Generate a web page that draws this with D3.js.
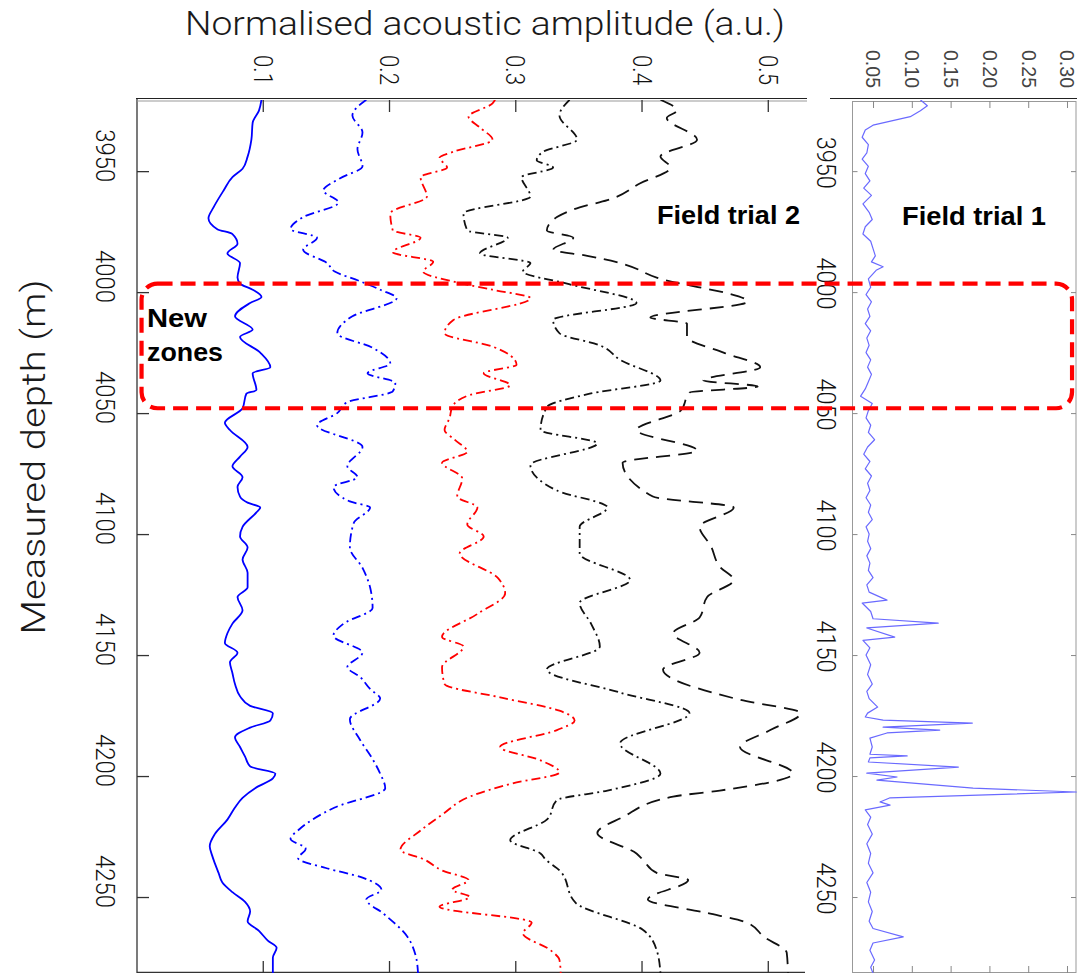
<!DOCTYPE html>
<meta charset="utf-8">
<style>
body { margin: 0; background: #fff; }
svg { font-family: "Liberation Sans", Arial, sans-serif; }
.narrow { font-family: "Liberation Sans Narrow", "Arial Narrow", Roboto, "Liberation Sans", sans-serif; font-weight: 300; }
.label { font-weight: bold; font-size: 26px; fill: #000; }
</style>
<body>
<script src="https://d3js.org/d3.v7.min.js"></script>
<script>
// depth ticks and amplitude ticks
var depthTicks = [3950, 4000, 4050, 4100, 4150, 4200, 4250];
var ampTicks2 = [0.1, 0.2, 0.3, 0.4, 0.5];
var ampTicks1 = [0.05, 0.10, 0.15, 0.20, 0.25, 0.30];
var zoneDepth = [3996.5, 4048];

// field trial 2 traces, [depth (m), amplitude]
var solidBlue = [[3920.5,0.099],[3925,0.097],[3930,0.092],[3937,0.091],[3944,0.088],[3949,0.084],[3952.5,0.076],[3958,0.069],[3965,0.061],[3969.5,0.057],[3974,0.064],[3976,0.076],[3980,0.080],[3984,0.072],[3988,0.082],[3994,0.080],[3996.5,0.082],[3999,0.092],[4002,0.099],[4004.5,0.090],[4010,0.078],[4015.5,0.092],[4018.5,0.082],[4025,0.098],[4031,0.106],[4033.5,0.092],[4040.5,0.095],[4042,0.087],[4048,0.084],[4054,0.070],[4057,0.074],[4064,0.088],[4068,0.082],[4072,0.076],[4076.5,0.084],[4080.5,0.080],[4084.5,0.082],[4087,0.088],[4089,0.098],[4091,0.095],[4097,0.084],[4101,0.082],[4105.5,0.088],[4110.5,0.084],[4116,0.088],[4122,0.088],[4126,0.080],[4131.5,0.084],[4137,0.076],[4141,0.072],[4145,0.070],[4149,0.080],[4153,0.074],[4157.5,0.076],[4162,0.078],[4167,0.082],[4171,0.090],[4174,0.108],[4177,0.106],[4180,0.090],[4184,0.078],[4188,0.082],[4192,0.086],[4196,0.090],[4199,0.110],[4201,0.108],[4205,0.094],[4209,0.084],[4213,0.078],[4218,0.072],[4224,0.062],[4229,0.058],[4233,0.060],[4236,0.062],[4240,0.065],[4244,0.068],[4248,0.076],[4252,0.086],[4256,0.090],[4260,0.088],[4264,0.097],[4268,0.104],[4271,0.111],[4275,0.108],[4281.5,0.108]];
var dashDotBlue = [[3920.5,0.182],[3927,0.171],[3934,0.179],[3941,0.175],[3948,0.179],[3953,0.161],[3958,0.148],[3963,0.160],[3969,0.132],[3974,0.122],[3977.5,0.143],[3982.5,0.132],[3988,0.151],[3991.5,0.157],[3995.5,0.177],[3999,0.193],[4002.5,0.206],[4010,0.171],[4017,0.159],[4023,0.187],[4029.5,0.201],[4033.5,0.183],[4037.5,0.205],[4041,0.203],[4045.5,0.167],[4050,0.159],[4055,0.143],[4064,0.179],[4072,0.167],[4076.5,0.175],[4080.5,0.156],[4086.5,0.169],[4089,0.185],[4095.5,0.172],[4105.5,0.169],[4114,0.179],[4122,0.185],[4130.5,0.187],[4137,0.164],[4142,0.156],[4149,0.179],[4155,0.167],[4159,0.177],[4164,0.185],[4168,0.193],[4176.5,0.169],[4185,0.177],[4193,0.187],[4199,0.193],[4205,0.197],[4213,0.157],[4222,0.129],[4226,0.122],[4230,0.134],[4234,0.128],[4238,0.150],[4242,0.179],[4247,0.194],[4251,0.182],[4257,0.196],[4266,0.214],[4274,0.221],[4281.5,0.223]];
var dashDotRed = [[3920.5,0.284],[3922,0.282],[3927.5,0.263],[3932,0.272],[3937,0.282],[3942,0.251],[3944.5,0.240],[3948.5,0.246],[3952.5,0.225],[3960.5,0.230],[3967.5,0.201],[3974.5,0.203],[3977.5,0.225],[3983.5,0.203],[3987.5,0.235],[3991.5,0.227],[3996,0.254],[3999,0.282],[4002.5,0.312],[4011.5,0.251],[4017,0.244],[4022.5,0.282],[4030,0.301],[4033.5,0.275],[4038.5,0.296],[4042.5,0.264],[4047.5,0.250],[4052,0.248],[4057,0.244],[4061,0.252],[4066,0.262],[4070.5,0.242],[4077,0.258],[4084.5,0.254],[4089,0.270],[4096,0.262],[4101,0.275],[4108,0.256],[4118,0.286],[4124.5,0.292],[4133,0.270],[4142.5,0.242],[4146.5,0.259],[4155,0.242],[4162,0.244],[4167.5,0.288],[4173,0.335],[4177,0.347],[4181,0.333],[4188,0.288],[4193.5,0.320],[4198.5,0.335],[4203,0.298],[4208.5,0.264],[4216,0.242],[4222.5,0.225],[4230.5,0.209],[4234.5,0.228],[4239,0.242],[4243,0.263],[4247,0.250],[4250,0.264],[4254,0.240],[4260.5,0.313],[4265,0.306],[4272,0.328],[4276,0.335],[4281.5,0.336]];
var dashDotBlack = [[3920.5,0.343],[3927,0.335],[3937,0.349],[3942,0.322],[3945.5,0.317],[3948.5,0.330],[3952.5,0.305],[3960.5,0.312],[3967.5,0.259],[3974.5,0.262],[3977.5,0.294],[3984,0.272],[3988,0.312],[3991.5,0.306],[3996.5,0.341],[4004.5,0.396],[4011.5,0.330],[4017,0.335],[4022,0.367],[4028,0.383],[4036.5,0.415],[4042,0.359],[4047.5,0.325],[4057,0.320],[4062.5,0.365],[4071.5,0.312],[4082,0.333],[4089,0.373],[4097,0.351],[4108,0.351],[4119,0.391],[4128.5,0.351],[4137,0.360],[4146.5,0.367],[4156,0.325],[4165.5,0.383],[4174,0.438],[4186.5,0.383],[4199,0.415],[4206,0.373],[4210,0.333],[4218,0.325],[4226.5,0.296],[4232,0.320],[4234.5,0.324],[4239,0.335],[4252.5,0.348],[4263.5,0.401],[4272,0.412],[4281.5,0.415]];
var dashedBlack = [[3920.5,0.415],[3925,0.428],[3928,0.420],[3937,0.444],[3944,0.415],[3948.5,0.423],[3955,0.399],[3962,0.373],[3965,0.351],[3969,0.333],[3974.5,0.325],[3977.5,0.346],[3982.5,0.330],[3985,0.357],[3988,0.383],[3994,0.412],[4004,0.484],[4010.5,0.407],[4013,0.436],[4018.5,0.436],[4025,0.465],[4031,0.494],[4036.5,0.449],[4039,0.492],[4041.5,0.438],[4049,0.431],[4057,0.396],[4065.5,0.444],[4070.5,0.385],[4084.5,0.409],[4089,0.473],[4097,0.446],[4105,0.455],[4113.5,0.462],[4119,0.473],[4126,0.452],[4134.5,0.446],[4141,0.425],[4149,0.446],[4156,0.417],[4168.5,0.478],[4174,0.526],[4181,0.502],[4188,0.478],[4199,0.520],[4206,0.462],[4208.5,0.425],[4217,0.385],[4223.5,0.365],[4232,0.396],[4234.5,0.401],[4240,0.412],[4243,0.437],[4251,0.405],[4256.5,0.451],[4260.5,0.483],[4266.5,0.497],[4273,0.515],[4281.5,0.516]];

// field trial 1 trace, [depth (m), amplitude]
var trial1 = [[3920.5,0.111],[3923,0.120],[3925,0.111],[3927.5,0.098],[3931,0.050],[3933,0.040],[3936,0.036],[3939,0.044],[3942.5,0.042],[3945,0.036],[3948,0.044],[3951,0.040],[3954,0.046],[3957,0.038],[3960,0.048],[3963.5,0.037],[3967,0.045],[3970,0.049],[3973,0.040],[3976,0.037],[3979,0.047],[3982,0.050],[3985,0.053],[3987.5,0.048],[3989.5,0.063],[3991,0.054],[3994.5,0.044],[3998,0.047],[4001,0.041],[4004,0.048],[4007,0.043],[4010,0.046],[4013,0.040],[4016,0.047],[4019,0.042],[4022,0.045],[4025,0.041],[4028,0.047],[4031,0.043],[4034,0.048],[4037,0.044],[4040,0.040],[4043,0.034],[4046,0.049],[4049,0.044],[4052,0.041],[4055,0.047],[4058,0.044],[4061,0.052],[4064,0.043],[4067,0.038],[4070,0.046],[4073,0.040],[4076,0.048],[4079,0.043],[4082,0.046],[4085,0.041],[4088,0.047],[4091,0.044],[4094,0.049],[4097,0.041],[4100,0.045],[4103,0.043],[4106,0.047],[4109,0.042],[4112,0.046],[4115,0.044],[4118,0.050],[4121,0.042],[4124,0.045],[4127.3,0.068],[4128.5,0.036],[4132,0.047],[4135,0.050],[4136.8,0.134],[4138.8,0.042],[4142.6,0.078],[4143.9,0.037],[4147,0.046],[4150,0.041],[4154,0.047],[4158,0.043],[4162,0.049],[4165,0.042],[4168,0.045],[4171.5,0.056],[4174,0.043],[4175.6,0.040],[4176.9,0.063],[4178.1,0.178],[4179.8,0.063],[4181,0.136],[4182.2,0.068],[4184.3,0.046],[4188,0.049],[4191,0.046],[4191.7,0.094],[4192.5,0.046],[4194.2,0.044],[4196.3,0.160],[4198.8,0.042],[4200.4,0.081],[4201.7,0.055],[4205,0.179],[4206.6,0.312],[4209,0.072],[4210.7,0.059],[4212,0.072],[4214,0.040],[4217,0.047],[4220,0.043],[4224,0.049],[4228,0.042],[4232,0.047],[4236,0.044],[4240,0.050],[4244,0.042],[4248,0.047],[4252,0.044],[4256,0.049],[4260,0.045],[4263,0.050],[4266.5,0.089],[4269,0.050],[4272,0.046],[4276,0.052],[4279,0.047],[4281.5,0.050]];

var w = 1077, h = 973;

var svg = d3.select("body").append("svg")
    .attr("width", w)
    .attr("height", h);

var y = d3.scaleLinear().domain([3920.6, 4281.4]).range([100, 973]);
var x2 = d3.scaleLinear().domain([0, 0.529]).range([136.5, 804.4]);
var x1 = d3.scaleLinear().domain([0.0229, 0.3116]).range([852, 1076]);

svg.append("clipPath").attr("id", "clip2")
  .append("rect").attr("x", 137).attr("y", 100).attr("width", 668).attr("height", 873);
svg.append("clipPath").attr("id", "clip1")
  .append("rect").attr("x", 852).attr("y", 100).attr("width", 225).attr("height", 873);

/* frames */
svg.append("line").attr("x1", 137).attr("x2", 137).attr("y1", 98).attr("y2", 973)
    .attr("stroke", "#333").attr("stroke-width", 1.3);
svg.append("line").attr("x1", 136).attr("x2", 807).attr("y1", 98.5).attr("y2", 98.5)
    .attr("stroke", "#222").attr("stroke-width", 1.2);
svg.append("line").attr("x1", 137).attr("x2", 807).attr("y1", 101).attr("y2", 101)
    .attr("stroke", "#999").attr("stroke-width", 1);
svg.append("line").attr("x1", 137).attr("x2", 805).attr("y1", 972.5).attr("y2", 972.5)
    .attr("stroke", "#333").attr("stroke-width", 1.3);
svg.append("line").attr("x1", 830).attr("x2", 1077).attr("y1", 98.5).attr("y2", 98.5)
    .attr("stroke", "#222").attr("stroke-width", 1.2);
svg.append("rect").attr("x", 852.5).attr("y", 101.5).attr("width", 223.5).attr("height", 871)
    .attr("fill", "none").attr("stroke", "#999").attr("stroke-width", 1);

/* axes */
function styleTicks(g, col, wd) {
  g.select(".domain").remove();
  g.attr("font-family", null).attr("font-size", null);
  g.selectAll(".tick line").attr("stroke", col).attr("stroke-width", wd);
}

var top2 = svg.append("g").attr("transform", "translate(0,100)")
    .call(d3.axisTop(x2).tickValues(ampTicks2).tickSize(-12).tickFormat(d3.format(".1f")));
styleTicks(top2, "#333", 1.3);
top2.selectAll("text")
    .attr("class", "narrow").attr("fill", "#111").style("font-size", "26px")
    .attr("x", 0).attr("y", 0).attr("dy", "0.36em").attr("text-anchor", "middle")
    .attr("transform", "translate(0,-30) rotate(90)")
    .attr("textLength", 30).attr("lengthAdjust", "spacingAndGlyphs");

var bottom2 = svg.append("g").attr("transform", "translate(0,973)")
    .call(d3.axisBottom(x2).tickValues(ampTicks2).tickSize(-12).tickFormat(""));
styleTicks(bottom2, "#333", 1.3);

var left2 = svg.append("g").attr("transform", "translate(137,0)")
    .call(d3.axisLeft(y).tickValues(depthTicks).tickSize(-12).tickFormat(d3.format("d")));
styleTicks(left2, "#333", 1.3);
left2.selectAll("text")
    .attr("class", "narrow").attr("fill", "#111").style("font-size", "26px")
    .attr("x", 0).attr("y", 0).attr("dy", "0.36em").attr("text-anchor", "middle")
    .attr("transform", "translate(-32,-16) rotate(90)")
    .attr("textLength", 53).attr("lengthAdjust", "spacingAndGlyphs");

var top1 = svg.append("g").attr("transform", "translate(0,101)")
    .call(d3.axisTop(x1).tickValues(ampTicks1).tickSize(-7).tickFormat(d3.format(".2f")));
styleTicks(top1, "#888", 1);
top1.selectAll("text")
    .attr("fill", "#444").style("font-size", "19.5px")
    .attr("x", 0).attr("y", 0).attr("dy", "0.36em").attr("text-anchor", "middle")
    .attr("transform", "translate(0,-32) rotate(90)")
    .attr("textLength", 38).attr("lengthAdjust", "spacingAndGlyphs");

var bottom1 = svg.append("g").attr("transform", "translate(0,973)")
    .call(d3.axisBottom(x1).tickValues(ampTicks1).tickSize(-7).tickFormat(""));
styleTicks(bottom1, "#888", 1);

var left1 = svg.append("g").attr("transform", "translate(852.5,0)")
    .call(d3.axisLeft(y).tickValues(depthTicks).tickSize(-5).tickFormat(d3.format("d")));
styleTicks(left1, "#888", 1);
left1.selectAll("text")
    .attr("class", "narrow").attr("fill", "#111").style("font-size", "26px")
    .attr("x", 0).attr("y", 0).attr("dy", "0.36em").attr("text-anchor", "middle")
    .attr("transform", "translate(-26,-9) rotate(90)")
    .attr("textLength", 52).attr("lengthAdjust", "spacingAndGlyphs");

var right1 = svg.append("g").attr("transform", "translate(1076,0)")
    .call(d3.axisRight(y).tickValues(depthTicks).tickSize(-5).tickFormat(""));
styleTicks(right1, "#888", 1);

/* traces */
var line2 = d3.line()
    .x(function(d) { return x2(d[1]); })
    .y(function(d) { return y(d[0]); })
    .curve(d3.curveMonotoneY);

var traces = [
  {data: solidBlue, color: "#0000ff", dash: null, width: 1.8},
  {data: dashDotBlue, color: "#0000ff", dash: "9,4,2,4", width: 1.8},
  {data: dashDotRed, color: "#ff0000", dash: "9,4,2,4", width: 1.8},
  {data: dashDotBlack, color: "#111", dash: "9,4,2,4", width: 1.8},
  {data: dashedBlack, color: "#111", dash: "14,8", width: 1.8}
];

svg.append("g").attr("clip-path", "url(#clip2)")
  .selectAll("path").data(traces)
  .enter().append("path")
    .attr("d", function(d) { return line2(d.data); })
    .attr("fill", "none")
    .attr("stroke", function(d) { return d.color; })
    .attr("stroke-width", function(d) { return d.width; })
    .attr("stroke-dasharray", function(d) { return d.dash; });

var line1 = d3.line()
    .x(function(d) { return x1(d[1]); })
    .y(function(d) { return y(d[0]); });

svg.append("path").attr("clip-path", "url(#clip1)")
    .attr("d", line1(trial1))
    .attr("fill", "none")
    .attr("stroke", "#6a6aff")
    .attr("stroke-width", 1.2)
    .attr("stroke-linejoin", "round");

/* new zones box */
svg.append("rect")
    .attr("x", x2(0.004))
    .attr("y", y(zoneDepth[0]))
    .attr("width", x1(0.3065) - x2(0.004))
    .attr("height", y(zoneDepth[1]) - y(zoneDepth[0]))
    .attr("rx", 16)
    .attr("fill", "none")
    .attr("stroke", "#ff0000")
    .attr("stroke-width", 4.2)
    .attr("stroke-dasharray", "15,8");

/* labels */
svg.append("text").attr("class", "label").attr("x", 147).attr("y", 327)
    .attr("textLength", 60).attr("lengthAdjust", "spacingAndGlyphs").text("New");
svg.append("text").attr("class", "label").attr("x", 147).attr("y", 361)
    .attr("textLength", 76).attr("lengthAdjust", "spacingAndGlyphs").text("zones");
svg.append("text").attr("class", "label").attr("x", 657).attr("y", 224)
    .attr("textLength", 143).attr("lengthAdjust", "spacingAndGlyphs").text("Field trial 2");
svg.append("text").attr("class", "label").attr("x", 902).attr("y", 225)
    .attr("textLength", 144).attr("lengthAdjust", "spacingAndGlyphs").text("Field trial 1");

svg.append("text").attr("class", "narrow")
    .attr("x", 185).attr("y", 35)
    .attr("fill", "#1a1a1a").style("font-size", "33px")
    .attr("textLength", 600).attr("lengthAdjust", "spacingAndGlyphs")
    .text("Normalised acoustic amplitude (a.u.)");

svg.append("text").attr("class", "narrow")
    .attr("transform", "translate(45,457) rotate(-90)")
    .attr("text-anchor", "middle")
    .attr("fill", "#1a1a1a").style("font-size", "33px")
    .attr("textLength", 355).attr("lengthAdjust", "spacingAndGlyphs")
    .text("Measured depth (m)");
</script>
